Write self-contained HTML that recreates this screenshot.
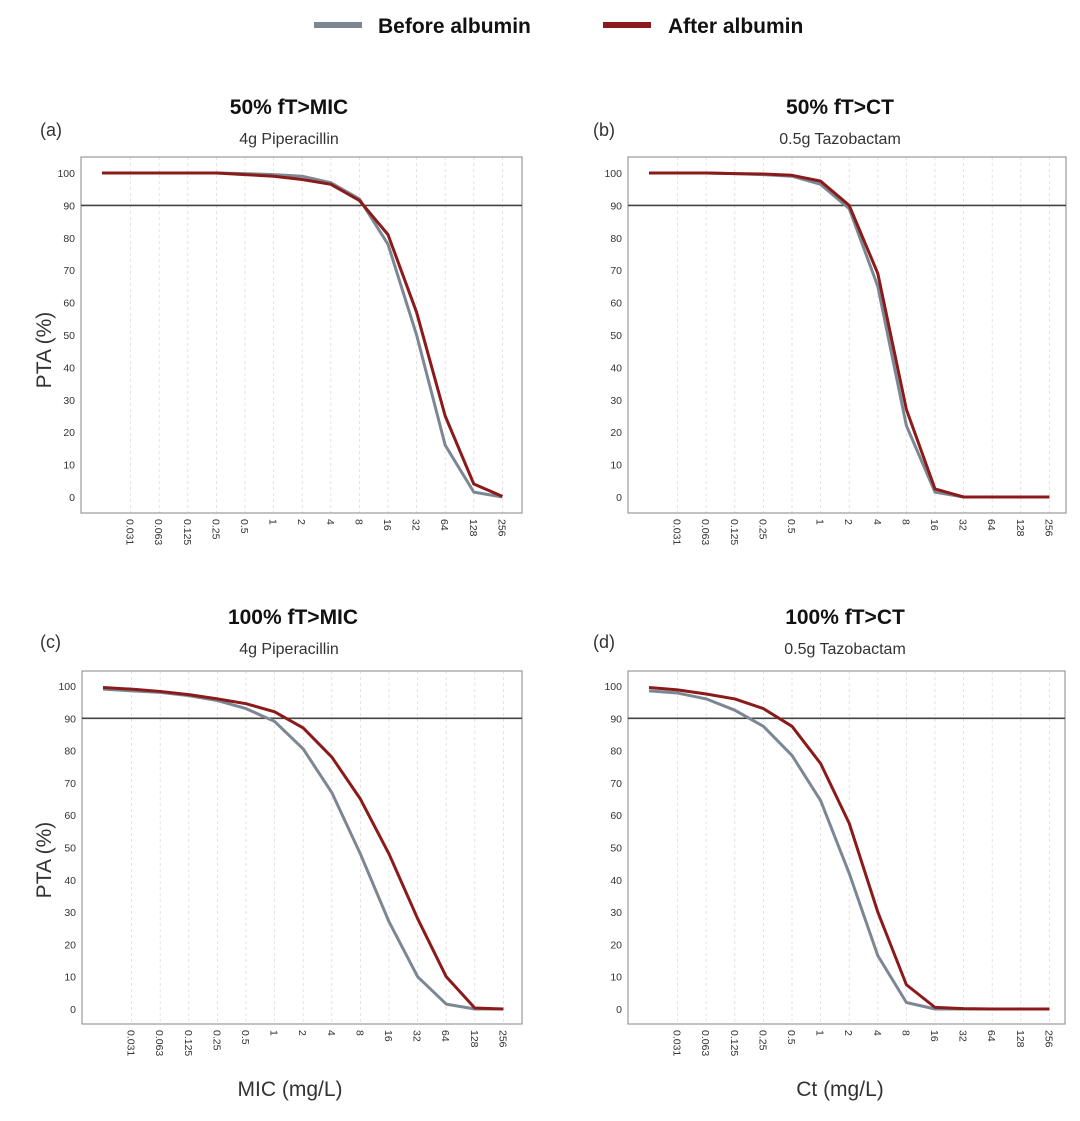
<!DOCTYPE html>
<html><head><meta charset="utf-8"><style>
html,body{margin:0;padding:0;background:#fff;}
svg{display:block;font-family:"Liberation Sans",sans-serif;}
.yt{font-size:10.5px;fill:#333;text-anchor:end;}
.xt{font-size:10.5px;fill:#333;}
.grid{stroke:#ddd;stroke-width:0.8;stroke-dasharray:3,3;}
.box{fill:none;stroke:#999;stroke-width:1.2;}
.g{fill:none;stroke:#7b8894;stroke-width:3;stroke-linejoin:round;}
.r{fill:none;stroke:#8b1a1a;stroke-width:3;stroke-linejoin:round;}
.h{stroke:#444;stroke-width:1.6;}
.t{font-size:21px;font-weight:bold;text-anchor:middle;fill:#111;}
.s{font-size:16px;text-anchor:middle;fill:#333;}
.p{font-size:18px;fill:#333;}
.ax{font-size:21px;fill:#333;text-anchor:middle;}
</style></head><body>
<svg width="1080" height="1121" viewBox="0 0 1080 1121">
<!-- legend -->
<line x1="314" y1="25" x2="362" y2="25" stroke="#7b8894" stroke-width="6"/>
<text x="378" y="33" font-size="21" font-weight="bold" fill="#111">Before albumin</text>
<line x1="603" y1="25" x2="651" y2="25" stroke="#8b1a1a" stroke-width="6"/>
<text x="668" y="33" font-size="21" font-weight="bold" fill="#111">After albumin</text>

<!-- titles -->
<text class="t" x="289" y="114">50% fT&gt;MIC</text>
<text class="s" x="289" y="144">4g Piperacillin</text>
<text class="p" x="40" y="136">(a)</text>
<text class="t" x="840" y="114">50% fT&gt;CT</text>
<text class="s" x="840" y="144">0.5g  Tazobactam</text>
<text class="p" x="593" y="136">(b)</text>
<text class="t" x="293" y="624">100% fT&gt;MIC</text>
<text class="s" x="289" y="654">4g Piperacillin</text>
<text class="p" x="40" y="648">(c)</text>
<text class="t" x="845" y="624">100% fT&gt;CT</text>
<text class="s" x="845" y="654">0.5g  Tazobactam</text>
<text class="p" x="593" y="648">(d)</text>

<text class="ax" transform="translate(51,350) rotate(-90)">PTA (%)</text>
<text class="ax" transform="translate(51,860) rotate(-90)">PTA (%)</text>
<text class="ax" x="290" y="1096">MIC (mg/L)</text>
<text class="ax" x="840" y="1096">Ct (mg/L)</text>

<!-- panel a -->
<g transform="translate(81,157)">
<g class="grid"><line x1="49.6" y1="0" x2="49.6" y2="356"/><line x1="78.2" y1="0" x2="78.2" y2="356"/><line x1="106.8" y1="0" x2="106.8" y2="356"/><line x1="135.4" y1="0" x2="135.4" y2="356"/><line x1="164" y1="0" x2="164" y2="356"/><line x1="192.6" y1="0" x2="192.6" y2="356"/><line x1="221.2" y1="0" x2="221.2" y2="356"/><line x1="249.8" y1="0" x2="249.8" y2="356"/><line x1="278.4" y1="0" x2="278.4" y2="356"/><line x1="307" y1="0" x2="307" y2="356"/><line x1="335.6" y1="0" x2="335.6" y2="356"/><line x1="364.2" y1="0" x2="364.2" y2="356"/><line x1="392.8" y1="0" x2="392.8" y2="356"/><line x1="421.4" y1="0" x2="421.4" y2="356"/></g>
<rect class="box" x="0" y="0" width="441" height="356"/>
<g class="yt"><text x="-6" y="344">0</text><text x="-6" y="311.6">10</text><text x="-6" y="279.2">20</text><text x="-6" y="246.8">30</text><text x="-6" y="214.4">40</text><text x="-6" y="182">50</text><text x="-6" y="149.6">60</text><text x="-6" y="117.2">70</text><text x="-6" y="84.8">80</text><text x="-6" y="52.4">90</text><text x="-6" y="20">100</text></g>
<g class="xt"><text transform="translate(45.6,362) rotate(90)">0.031</text><text transform="translate(74.2,362) rotate(90)">0.063</text><text transform="translate(102.8,362) rotate(90)">0.125</text><text transform="translate(131.4,362) rotate(90)">0.25</text><text transform="translate(160,362) rotate(90)">0.5</text><text transform="translate(188.6,362) rotate(90)">1</text><text transform="translate(217.2,362) rotate(90)">2</text><text transform="translate(245.8,362) rotate(90)">4</text><text transform="translate(274.4,362) rotate(90)">8</text><text transform="translate(303,362) rotate(90)">16</text><text transform="translate(331.6,362) rotate(90)">32</text><text transform="translate(360.2,362) rotate(90)">64</text><text transform="translate(388.8,362) rotate(90)">128</text><text transform="translate(417.4,362) rotate(90)">256</text></g>
<line class="h" x1="0" y1="48.4" x2="441" y2="48.4"/>
<polyline class="g" points="21,16 49.6,16 78.2,16 106.8,16 135.4,16 164,16.6 192.6,17.6 221.2,19.2 249.8,25.7 278.4,41.9 307,87.3 335.6,178 364.2,288.2 392.8,335.1 421.4,340"/>
<polyline class="r" points="21,16 49.6,16 78.2,16 106.8,16 135.4,16 164,17.6 192.6,19.2 221.2,22.5 249.8,27.3 278.4,43.5 307,77.6 335.6,155.3 364.2,259 392.8,327 421.4,339.4"/>
</g>

<!-- panel b -->
<g transform="translate(628,157)">
<g class="grid"><line x1="49.6" y1="0" x2="49.6" y2="356"/><line x1="78.2" y1="0" x2="78.2" y2="356"/><line x1="106.8" y1="0" x2="106.8" y2="356"/><line x1="135.4" y1="0" x2="135.4" y2="356"/><line x1="164" y1="0" x2="164" y2="356"/><line x1="192.6" y1="0" x2="192.6" y2="356"/><line x1="221.2" y1="0" x2="221.2" y2="356"/><line x1="249.8" y1="0" x2="249.8" y2="356"/><line x1="278.4" y1="0" x2="278.4" y2="356"/><line x1="307" y1="0" x2="307" y2="356"/><line x1="335.6" y1="0" x2="335.6" y2="356"/><line x1="364.2" y1="0" x2="364.2" y2="356"/><line x1="392.8" y1="0" x2="392.8" y2="356"/><line x1="421.4" y1="0" x2="421.4" y2="356"/></g>
<rect class="box" x="0" y="0" width="438" height="356"/>
<g class="yt"><text x="-6" y="344">0</text><text x="-6" y="311.6">10</text><text x="-6" y="279.2">20</text><text x="-6" y="246.8">30</text><text x="-6" y="214.4">40</text><text x="-6" y="182">50</text><text x="-6" y="149.6">60</text><text x="-6" y="117.2">70</text><text x="-6" y="84.8">80</text><text x="-6" y="52.4">90</text><text x="-6" y="20">100</text></g>
<g class="xt"><text transform="translate(45.6,362) rotate(90)">0.031</text><text transform="translate(74.2,362) rotate(90)">0.063</text><text transform="translate(102.8,362) rotate(90)">0.125</text><text transform="translate(131.4,362) rotate(90)">0.25</text><text transform="translate(160,362) rotate(90)">0.5</text><text transform="translate(188.6,362) rotate(90)">1</text><text transform="translate(217.2,362) rotate(90)">2</text><text transform="translate(245.8,362) rotate(90)">4</text><text transform="translate(274.4,362) rotate(90)">8</text><text transform="translate(303,362) rotate(90)">16</text><text transform="translate(331.6,362) rotate(90)">32</text><text transform="translate(360.2,362) rotate(90)">64</text><text transform="translate(388.8,362) rotate(90)">128</text><text transform="translate(417.4,362) rotate(90)">256</text></g>
<line class="h" x1="0" y1="48.4" x2="438" y2="48.4"/>
<polyline class="g" points="21,16 49.6,16 78.2,16 106.8,16.6 135.4,17.6 164,19.2 192.6,27.3 221.2,51.6 249.8,129.4 278.4,268.7 307,335.1 335.6,340 364.2,340 392.8,340 421.4,340"/>
<polyline class="r" points="21,16 49.6,16 78.2,16 106.8,16.6 135.4,17 164,18.3 192.6,24.1 221.2,48.4 249.8,116.4 278.4,252.5 307,331.9 335.6,340 364.2,340 392.8,340 421.4,340"/>
</g>

<!-- panel c -->
<g transform="translate(82,671)">
<g class="grid"><line x1="49.6" y1="0" x2="49.6" y2="353"/><line x1="78.2" y1="0" x2="78.2" y2="353"/><line x1="106.8" y1="0" x2="106.8" y2="353"/><line x1="135.4" y1="0" x2="135.4" y2="353"/><line x1="164" y1="0" x2="164" y2="353"/><line x1="192.6" y1="0" x2="192.6" y2="353"/><line x1="221.2" y1="0" x2="221.2" y2="353"/><line x1="249.8" y1="0" x2="249.8" y2="353"/><line x1="278.4" y1="0" x2="278.4" y2="353"/><line x1="307" y1="0" x2="307" y2="353"/><line x1="335.6" y1="0" x2="335.6" y2="353"/><line x1="364.2" y1="0" x2="364.2" y2="353"/><line x1="392.8" y1="0" x2="392.8" y2="353"/><line x1="421.4" y1="0" x2="421.4" y2="353"/></g>
<rect class="box" x="0" y="0" width="440" height="353"/>
<g class="yt"><text x="-6" y="342">0</text><text x="-6" y="309.7">10</text><text x="-6" y="277.4">20</text><text x="-6" y="245.1">30</text><text x="-6" y="212.8">40</text><text x="-6" y="180.5">50</text><text x="-6" y="148.2">60</text><text x="-6" y="115.9">70</text><text x="-6" y="83.6">80</text><text x="-6" y="51.3">90</text><text x="-6" y="19">100</text></g>
<g class="xt"><text transform="translate(45.6,359) rotate(90)">0.031</text><text transform="translate(74.2,359) rotate(90)">0.063</text><text transform="translate(102.8,359) rotate(90)">0.125</text><text transform="translate(131.4,359) rotate(90)">0.25</text><text transform="translate(160,359) rotate(90)">0.5</text><text transform="translate(188.6,359) rotate(90)">1</text><text transform="translate(217.2,359) rotate(90)">2</text><text transform="translate(245.8,359) rotate(90)">4</text><text transform="translate(274.4,359) rotate(90)">8</text><text transform="translate(303,359) rotate(90)">16</text><text transform="translate(331.6,359) rotate(90)">32</text><text transform="translate(360.2,359) rotate(90)">64</text><text transform="translate(388.8,359) rotate(90)">128</text><text transform="translate(417.4,359) rotate(90)">256</text></g>
<line class="h" x1="0" y1="47.3" x2="440" y2="47.3"/>
<g transform="translate(0,-1) scale(1,0.997)">
<polyline class="g" points="21,19.2 49.6,20.9 78.2,22.5 106.8,25.7 135.4,30.6 164,38.7 192.6,51.6 221.2,79.2 249.8,122.9 278.4,184.5 307,252.5 335.6,307.6 364.2,335.1 392.8,340 421.4,340"/>
<polyline class="r" points="21,17.6 49.6,19.2 78.2,21.5 106.8,24.7 135.4,29 164,33.8 192.6,41.9 221.2,58.1 249.8,87.3 278.4,129.4 307,184.5 335.6,249.3 364.2,307.6 392.8,339 421.4,340"/>
</g>
</g>

<!-- panel d -->
<g transform="translate(628,671)">
<g class="grid"><line x1="49.6" y1="0" x2="49.6" y2="353"/><line x1="78.2" y1="0" x2="78.2" y2="353"/><line x1="106.8" y1="0" x2="106.8" y2="353"/><line x1="135.4" y1="0" x2="135.4" y2="353"/><line x1="164" y1="0" x2="164" y2="353"/><line x1="192.6" y1="0" x2="192.6" y2="353"/><line x1="221.2" y1="0" x2="221.2" y2="353"/><line x1="249.8" y1="0" x2="249.8" y2="353"/><line x1="278.4" y1="0" x2="278.4" y2="353"/><line x1="307" y1="0" x2="307" y2="353"/><line x1="335.6" y1="0" x2="335.6" y2="353"/><line x1="364.2" y1="0" x2="364.2" y2="353"/><line x1="392.8" y1="0" x2="392.8" y2="353"/><line x1="421.4" y1="0" x2="421.4" y2="353"/></g>
<rect class="box" x="0" y="0" width="437" height="353"/>
<g class="yt"><text x="-6" y="342">0</text><text x="-6" y="309.7">10</text><text x="-6" y="277.4">20</text><text x="-6" y="245.1">30</text><text x="-6" y="212.8">40</text><text x="-6" y="180.5">50</text><text x="-6" y="148.2">60</text><text x="-6" y="115.9">70</text><text x="-6" y="83.6">80</text><text x="-6" y="51.3">90</text><text x="-6" y="19">100</text></g>
<g class="xt"><text transform="translate(45.6,359) rotate(90)">0.031</text><text transform="translate(74.2,359) rotate(90)">0.063</text><text transform="translate(102.8,359) rotate(90)">0.125</text><text transform="translate(131.4,359) rotate(90)">0.25</text><text transform="translate(160,359) rotate(90)">0.5</text><text transform="translate(188.6,359) rotate(90)">1</text><text transform="translate(217.2,359) rotate(90)">2</text><text transform="translate(245.8,359) rotate(90)">4</text><text transform="translate(274.4,359) rotate(90)">8</text><text transform="translate(303,359) rotate(90)">16</text><text transform="translate(331.6,359) rotate(90)">32</text><text transform="translate(360.2,359) rotate(90)">64</text><text transform="translate(388.8,359) rotate(90)">128</text><text transform="translate(417.4,359) rotate(90)">256</text></g>
<line class="h" x1="0" y1="47.3" x2="437" y2="47.3"/>
<g transform="translate(0,-1) scale(1,0.997)">
<polyline class="g" points="21,20.9 49.6,23.1 78.2,29 106.8,40.3 135.4,56.5 164,85.7 192.6,131 221.2,203.9 249.8,286.5 278.4,333.5 307,340 335.6,340 364.2,340 392.8,340 421.4,340"/>
<polyline class="r" points="21,17.6 49.6,19.9 78.2,24.1 106.8,29 135.4,38.7 164,56.5 192.6,93.8 221.2,153.7 249.8,242.8 278.4,315.7 307,338.4 335.6,339.7 364.2,340 392.8,340 421.4,340"/>
</g>
</g>
</svg>
</body></html>
